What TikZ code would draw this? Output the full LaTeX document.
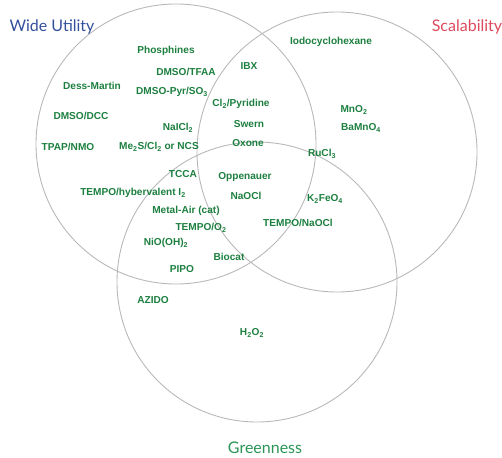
\documentclass[tikz,border=0pt]{standalone}
\usepackage{fontspec}
\setmainfont{Liberation Sans}
\newfontfamily\titlefont{Lato}
\definecolor{itemgreen}{HTML}{1C7F3F}
\definecolor{ringgray}{HTML}{B8B8B8}
\definecolor{utilblue}{HTML}{34509C}
\definecolor{scalred}{HTML}{DD4A5C}
\definecolor{greengreen}{HTML}{2A9556}
\tikzset{
  ring/.style={draw=ringgray, line width=0.9pt},
  item/.style={text=itemgreen, font=\fontsize{10.1}{12}\selectfont\bfseries, inner sep=0pt},
  ttl/.style={font=\titlefont\fontsize{16}{18}\selectfont, inner sep=0pt}
}
\newcommand{\subs}[1]{\textsubscript{#1}}
\begin{document}
\begin{tikzpicture}[x=1pt,y=-1pt]
\useasboundingbox (0,0) rectangle (502,457);
\node[ring, circle, minimum size=280pt, inner sep=0pt] (c1) at (176,144) {};
\node[ring, circle, minimum size=280pt, inner sep=0pt] (c2) at (337,152) {};
\node[ring, circle, minimum size=280pt, inner sep=0pt] (c3) at (257,282) {};

\node[ttl, text=utilblue] (tu) at (52,27) {Wide Utility};
\node[ttl, text=scalred] (ts) at (467,27) {Scalability};
\node[ttl, text=greengreen] (tg) at (265,448) {Greenness};

\node[item] (phos) at (166,51) {Phosphines};
\node[item] (tfaa) at (186,72) {DMSO/TFAA};
\node[item] (dess) at (92,86) {Dess-Martin};
\node[item] (pyr) at (172,92) {DMSO-Pyr/SO\subs{3}};
\node[item] (dcc) at (81,116) {DMSO/DCC};
\node[item] (naicl) at (178,128) {NaICl\subs{2}};
\node[item] (tpap) at (68,147) {TPAP/NMO};
\node[item] (me2s) at (159,147) {Me\subs{2}S/Cl\subs{2} or NCS};

\node[item] (iodo) at (331,42) {Iodocyclohexane};
\node[item] (ibx) at (249,66) {IBX};
\node[item] (clpyr) at (241,104) {Cl\subs{2}/Pyridine};
\node[item] (swern) at (249,124) {Swern};
\node[item] (oxone) at (248,143) {Oxone};
\node[item] (mno) at (354,110) {MnO\subs{2}};
\node[item] (bamno) at (361,128) {BaMnO\subs{4}};
\node[item] (rucl) at (322,154) {RuCl\subs{3}};

\node[item] (tcca) at (183,174) {TCCA};
\node[item] (thyp) at (133,193) {TEMPO/hybervalent I\subs{2}};
\node[item] (mair) at (186,211) {Metal-Air (cat)};
\node[item] (to2) at (201,228) {TEMPO/O\subs{2}};
\node[item] (nio) at (166,243) {NiO(OH)\subs{2}};
\node[item] (bio) at (229,257) {Biocat};
\node[item] (pipo) at (182,269) {PIPO};
\node[item] (azido) at (153,300) {AZIDO};

\node[item] (opp) at (245,177) {Oppenauer};
\node[item] (naocl) at (246,196) {NaOCl};
\node[item] (kfe) at (325,199) {K\subs{2}FeO\subs{4}};
\node[item] (tnaocl) at (298,223) {TEMPO/NaOCl};
\node[item] (h2o2) at (252,333) {H\subs{2}O\subs{2}};
\end{tikzpicture}
\end{document}
